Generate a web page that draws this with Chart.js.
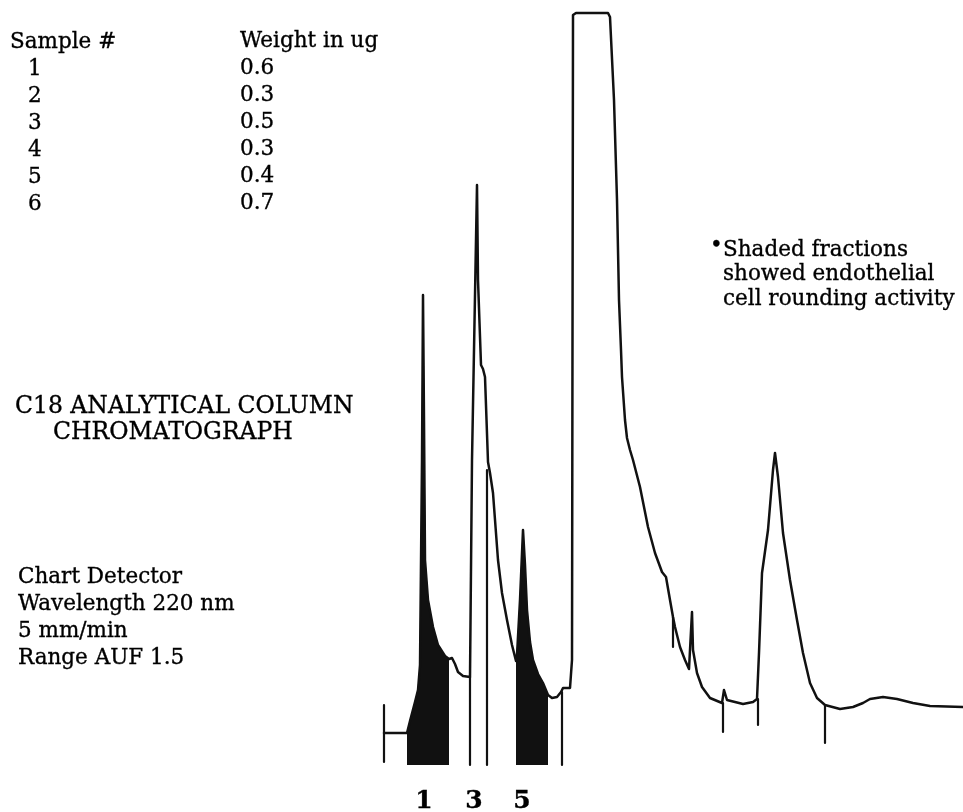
<!DOCTYPE html>
<html lang="en">
<head>
  <meta charset="UTF-8">
  <title>C18 Analytical Column Chromatograph</title>
  <script src="https://cdn.jsdelivr.net/npm/chart.js"></script>
  <style>
    body { margin: 0; background: #fff; overflow: hidden; }
    #wrap { position: relative; width: 963px; height: 812px; }
    #chart { position: absolute; left: 0; top: 0; }
    .t { position: absolute; font-family: "DejaVu Serif", serif; font-size: 21.5px; line-height: 21.5px; color: #000; white-space: nowrap; -webkit-text-stroke: 0.35px #000; }
    .head { font-size: 23.5px; line-height: 23.5px; }
    .frac { font-weight: bold; font-size: 25px; line-height: 25px; transform: translateX(-50%); }
  </style>
</head>
<body>
<div id="wrap">
  <canvas id="chart" width="963" height="812"></canvas>

  <div class="t" style="left:10px; top:30px;">Sample #</div>
  <div class="t" style="left:240px; top:29px;">Weight in ug</div>
  <div id="table"></div>

  <div class="t head" style="left:15px; top:394px;">C18 ANALYTICAL COLUMN</div>
  <div class="t head" style="left:53px; top:420px;">CHROMATOGRAPH</div>

  <div class="t" style="left:18px; top:565px;">Chart Detector</div>
  <div class="t" style="left:18px; top:592px;">Wavelength 220 nm</div>
  <div class="t" style="left:18px; top:619px;">5 mm/min</div>
  <div class="t" style="left:18px; top:646px;">Range AUF 1.5</div>

  <div class="t" style="left:710px; top:234px;">&bull;</div>
  <div class="t" style="left:723px; top:238px;">Shaded fractions</div>
  <div class="t" style="left:723px; top:262px;">showed endothelial</div>
  <div class="t" style="left:723px; top:287px;">cell rounding activity</div>
</div>

<script>
  // sample table
  const sampleIds = ['1', '2', '3', '4', '5', '6'];
  const sampleWeights = [0.6, 0.3, 0.5, 0.3, 0.4, 0.7];

  // detector trace (time from injection mark, signal above baseline)
  const traceTime = [0, 23, 26, 31, 34, 36, 38, 39, 40, 41,
    44, 49, 54, 61, 65, 68, 71, 74, 79, 86,
    88, 93, 94, 97, 99, 101, 104, 106, 109, 114,
    118, 123, 128, 132, 133, 136, 139, 141, 143, 146,
    149, 154, 159, 164, 168, 173, 177, 179, 186, 188,
    189, 192, 224, 226, 230, 233, 235, 237, 238, 241,
    243, 246, 249, 256, 264, 271, 278, 282, 286, 289,
    291, 296, 301, 305, 308, 309, 313, 318, 326, 338,
    340, 343, 351, 359, 369, 373, 375, 378, 384, 389,
    391, 394, 399, 406, 413, 419, 426, 433, 441, 456,
    469, 479, 486, 499, 513, 529, 546, 579];
  const traceSignal = [0, 0, 12, 31, 43, 68, 273, 438, 313, 173,
    133, 106, 88, 77, 74, 75, 69, 61, 57, 56,
    273, 548, 453, 368, 364, 356, 271, 260, 240, 173,
    140, 113, 88, 72, 78, 133, 203, 168, 123, 91,
    73, 59, 50, 38, 35, 36, 41, 45, 45, 73,
    718, 720, 720, 716, 633, 533, 433, 383, 356, 313,
    295, 283, 273, 246, 206, 180, 161, 156, 133, 116,
    106, 86, 73, 64, 121, 83, 60, 46, 35, 30,
    43, 33, 31, 29, 31, 34, 80, 160, 203, 263,
    280, 256, 200, 153, 113, 80, 50, 35, 28, 24,
    26, 30, 34, 36, 34, 30, 27, 26];

  // shaded (active) fractions
  const shadeStart = [23, 132];
  const shadeEnd = [65, 164];
  const shadeFloor = -32;

  // fraction cut marks
  const markerTime = [0, 86, 103, 178, 289, 339, 374, 441];
  const markerTop = [28, 56, 263, 41, 116, 30, 34, 28];
  const markerBottom = [-29, -32, -32, -32, 86, 1, 8, -10];

  // fraction numbers under the trace
  const fractionLabels = ['1', '3', '5'];
  const fractionLabelTime = [40, 90, 138];
  const fractionLabelLevel = -67;

  const ink = '#111';

  // table rows
  const table = document.getElementById('table');
  sampleIds.forEach((id, i) => {
    const top = 57 + i * 27;
    table.insertAdjacentHTML('beforeend',
      `<div class="t" style="left:28px; top:${top}px;">${id}</div>` +
      `<div class="t" style="left:240px; top:${top - 1}px;">${sampleWeights[i].toFixed(1)}</div>`);
  });

  const trace = traceTime.map((t, i) => ({ x: t, y: traceSignal[i] }));

  const shadeSets = shadeStart.map((s, k) => ({
    data: trace.filter(p => p.x >= s && p.x <= shadeEnd[k]),
    borderColor: ink,
    borderWidth: 1,
    backgroundColor: ink,
    fill: { value: shadeFloor },
    order: 2
  }));

  const markerData = [];
  markerTime.forEach((t, i) => {
    markerData.push({ x: t, y: markerTop[i] }, { x: t, y: markerBottom[i] }, { x: t, y: null });
  });

  const chart = new Chart(document.getElementById('chart').getContext('2d'), {
    type: 'line',
    data: {
      datasets: [
        { data: trace, borderColor: ink, borderWidth: 2.5, fill: false, order: 0 },
        { data: markerData, borderColor: ink, borderWidth: 2.2, fill: false, spanGaps: false, order: 1 },
        ...shadeSets
      ]
    },
    options: {
      responsive: false,
      animation: false,
      layout: { padding: 0 },
      elements: {
        point: { radius: 0, hoverRadius: 0 },
        line: { tension: 0, borderJoinStyle: 'round', borderCapStyle: 'round' }
      },
      scales: {
        x: { type: 'linear', min: -384, max: 579, display: false },
        y: { type: 'linear', min: -79, max: 733, display: false }
      },
      plugins: { legend: { display: false }, tooltip: { enabled: false } }
    }
  });

  // fraction numbers placed through the chart's scales
  const wrap = document.getElementById('wrap');
  fractionLabels.forEach((lab, i) => {
    const px = chart.scales.x.getPixelForValue(fractionLabelTime[i]);
    const py = chart.scales.y.getPixelForValue(fractionLabelLevel);
    wrap.insertAdjacentHTML('beforeend',
      `<div class="t frac" style="left:${px}px; top:${py - 13}px;">${lab}</div>`);
  });
</script>
</body>
</html>
